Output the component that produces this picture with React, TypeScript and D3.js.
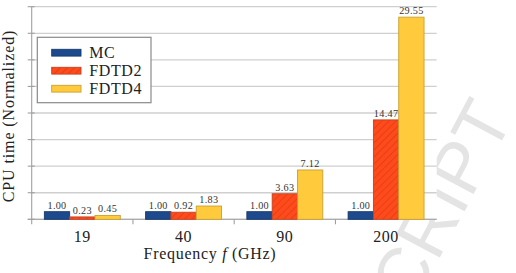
import React from "react";
import * as d3 from "d3";

const categories = ["19", "40", "90", "200"];
const series = ["MC", "FDTD2", "FDTD4"];
const mcValues = [1.0, 1.0, 1.0, 1.0];
const fdtd2Values = [0.23, 0.92, 3.63, 14.47];
const fdtd4Values = [0.45, 1.83, 7.12, 29.55];
const valueLabels = [
  ["1.00", "0.23", "0.45"],
  ["1.00", "0.92", "1.83"],
  ["1.00", "3.63", "7.12"],
  ["1.00", "14.47", "29.55"],
];
const yMax = 31.2;
const gridCount = 8;

const fills = ["#1d4a8c", "#ff4a1c", "#ffcb3c"];
const strokes = ["#163a6e", "#c8421e", "#c9a032"];

const W = 516;
const H = 273;
const left = 31.7;
const right = 436.7;
const top = 6.7;
const bottom = 219.3;
const serifStyle = { fontFamily: "'Liberation Serif', 'DejaVu Serif', serif" };

export default function App() {
  const x0 = d3.scaleBand<string>().domain(categories).range([left, right]).padding(0);
  const x1 = d3
    .scaleBand<string>()
    .domain(series)
    .range([0, x0.bandwidth()])
    .paddingInner(0)
    .paddingOuter(0.5);
  const y = d3.scaleLinear().domain([0, yMax]).range([bottom, top]);
  const grid = d3.range(0, gridCount + 1).map((i) => (i * yMax) / gridCount);
  const data = [mcValues, fdtd2Values, fdtd4Values];

  return (
    <svg width={W} height={H} style={{ display: "block", position: "absolute", left: 0, top: 0 }}>
      <defs>
        <pattern id="hatch" patternUnits="userSpaceOnUse" width="5" height="5" patternTransform="rotate(45)">
          <rect width="5" height="5" fill={fills[1]} />
          <line x1="0" y1="0" x2="0" y2="5" stroke="#d23a12" strokeWidth="1.2" />
        </pattern>
      </defs>
      <rect width={W} height={H} fill="#fff" />
      <text
        transform="translate(514,118) rotate(-62)"
        textAnchor="end"
        style={{ fontFamily: "'Liberation Sans', Arial, sans-serif" }}
        fontSize={72}
        fill="#e4e4e4"
      >
        MANUSCRIPT
      </text>
      <rect x={left} y={top} width={right - left} height={bottom - top} fill="#fff" />
      {grid.map((g, i) => (
        <g key={i}>
          <line x1={left} x2={right} y1={y(g)} y2={y(g)} stroke="#cfcfcf" strokeWidth={1.3} />
          <line x1={left - 4} x2={left + 3} y1={y(g)} y2={y(g)} stroke="#a0a0a0" strokeWidth={1.1} />
        </g>
      ))}
      <line x1={left} x2={left} y1={top} y2={bottom + 5} stroke="#a0a0a0" strokeWidth={1.1} />
      <line x1={left - 4} x2={right} y1={bottom} y2={bottom} stroke="#a0a0a0" strokeWidth={1.1} />
      {categories.slice(1).map((c) => (
        <line key={c} x1={x0(c)} x2={x0(c)} y1={bottom} y2={bottom + 5} stroke="#a0a0a0" strokeWidth={1.1} />
      ))}
      {categories.map((c, ci) => (
        <g key={c}>
          {series.map((s, si) => {
            const v = data[si][ci];
            const bx = (x0(c) as number) + (x1(s) as number);
            const by = y(v) - 0.8;
            return (
              <g key={s}>
                <rect
                  x={bx}
                  y={by}
                  width={x1.bandwidth()}
                  height={bottom - by}
                  fill={si === 1 ? "url(#hatch)" : fills[si]}
                  stroke={strokes[si]}
                  strokeWidth={0.9}
                />
                <text
                  x={bx + x1.bandwidth() / 2}
                  y={by - 3}
                  textAnchor="middle"
                  style={serifStyle}
                  fontSize={10.2}
                  letterSpacing={0.3}
                  fill="#333"
                >
                  {valueLabels[ci][si]}
                </text>
              </g>
            );
          })}
          <text
            x={(x0(c) as number) + x0.bandwidth() / 2}
            y={241.5}
            textAnchor="middle"
            style={serifStyle}
            fontSize={16}
            letterSpacing={0.5}
            fill="#222"
          >
            {c}
          </text>
        </g>
      ))}
      <text
        x={210}
        y={258.5}
        textAnchor="middle"
        style={serifStyle}
        fontSize={16}
        letterSpacing={0.7}
        fill="#222"
      >
        Frequency <tspan fontStyle="italic">f</tspan> (GHz)
      </text>
      <text
        transform={`translate(13.5,116) rotate(-90)`}
        textAnchor="middle"
        style={serifStyle}
        fontSize={16}
        letterSpacing={0.9}
        fill="#222"
      >
        CPU time (Normalized)
      </text>
      <rect x={37.3} y={37.3} width={113.7} height={65.4} fill="#fff" stroke="#8a8a8a" strokeWidth={1.2} />
      {series.map((s, si) => (
        <g key={s}>
          <rect
            x={51.7}
            y={52.7 + si * 18 - 3.4}
            width={29.3}
            height={6.8}
            fill={si === 1 ? "url(#hatch)" : fills[si]}
            stroke={strokes[si]}
            strokeWidth={0.9}
          />
          <text
            x={89.3}
            y={52.7 + si * 18 + 5.6}
            style={serifStyle}
            fontSize={16}
            letterSpacing={0.6}
            fill="#222"
          >
            {s}
          </text>
        </g>
      ))}
    </svg>
  );
}
